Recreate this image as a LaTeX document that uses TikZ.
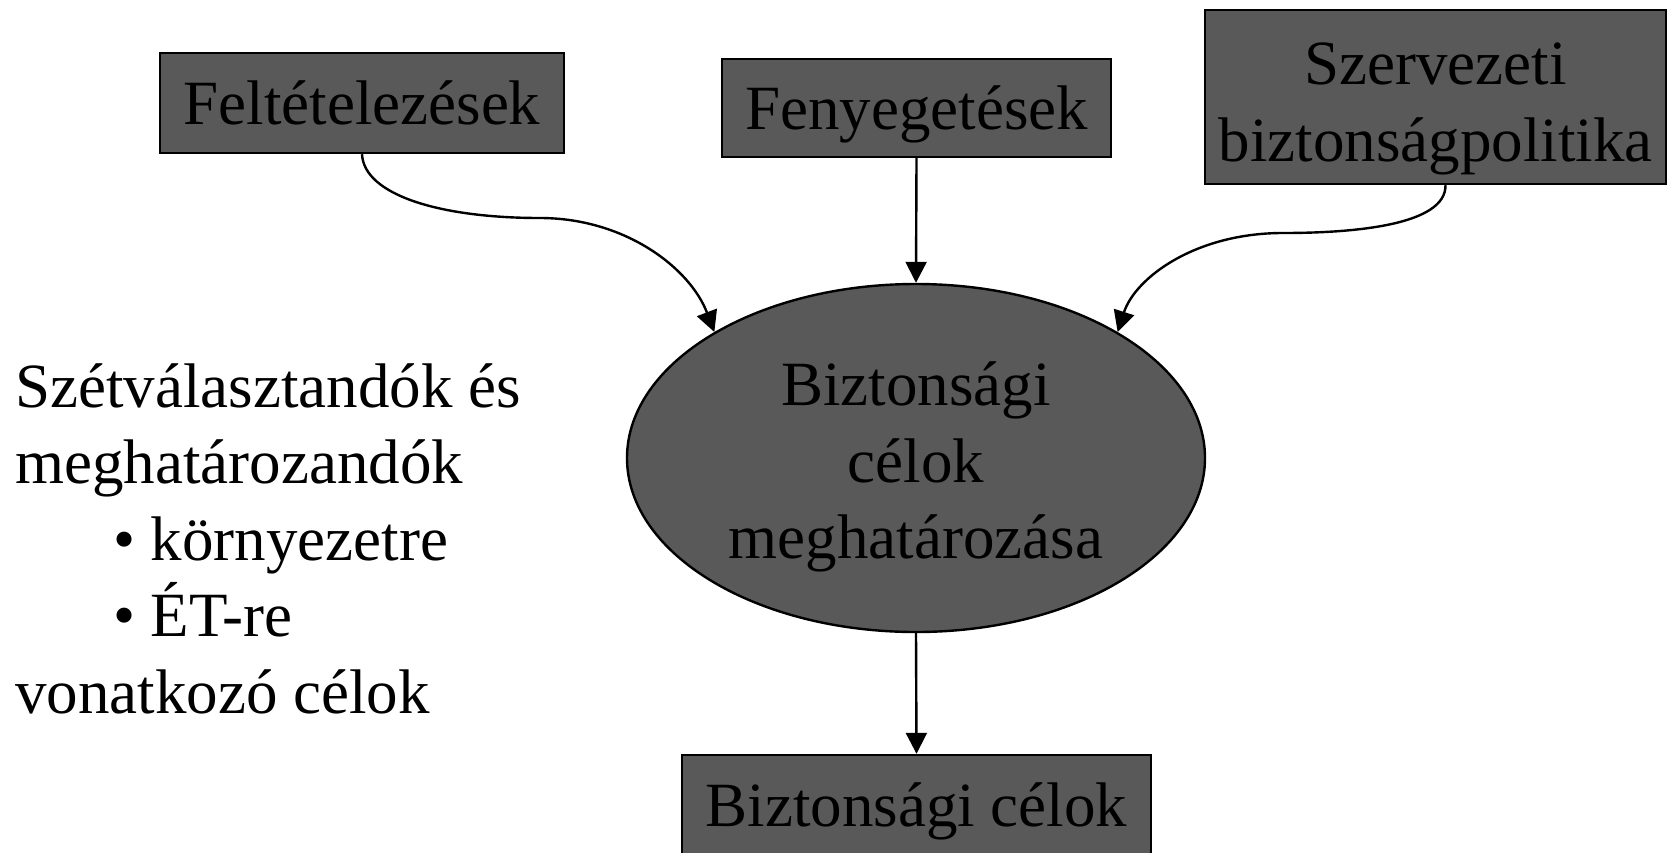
\documentclass[tikz,border=0pt]{standalone}
\usepackage{fontspec}
\setmainfont{Liberation Serif}
\usetikzlibrary{arrows.meta,shapes.geometric}
\definecolor{boxgray}{HTML}{595959}
\newcommand{\ppstrut}{\rule[-14pt]{0pt}{70pt}}

\begin{document}
\begin{tikzpicture}[x=1pt, y=-1pt, >={Triangle[length=21pt,width=21pt]}, line width=2.4pt,
	txt/.style={font=\fontsize{63}{76.5}\selectfont, inner sep=0pt},
	grbox/.style={txt, draw, fill=boxgray, align=center, text height=56pt, text depth=14pt},
	grell/.style={txt, draw, fill=boxgray, ellipse, align=center}]
			
			\useasboundingbox (0,0) rectangle (1677,852);
			
			\node[grbox, minimum width=404pt, minimum height=100pt] (fel) at (362,103) {Feltételezések};
			\node[grbox, minimum width=389pt, minimum height=98pt] (fen) at (916.5,108) {Fenyegetések};
			\node[txt, draw, fill=boxgray, align=center, minimum width=461pt, minimum height=174pt]
			(szp) at (1435.5,97) {\rule{0pt}{66pt}Szervezeti\\biztonságpolitika\ppstrut};
			
			\node[grell, minimum width=578pt, minimum height=348pt] (bcm) at (916,458)
			{\rule{0pt}{62pt}Biztonsági\\célok\\meghatározása\ppstrut};
			
			\node[grbox, minimum width=469pt, minimum height=100pt] (bc) at (916.5,805) {Biztonsági célok};
			
			\node[txt, anchor=north west, align=left] (lt) at (14,350)
			{\ppstrut Szétválasztandók és\\meghatározandók\\\hspace*{98pt}• környezetre\\\hspace*{98pt}• ÉT-re\\vonatkozó célok};
			
			\draw[->] (fel.south) .. controls (364,195) and (440,218) .. (540,218)
			.. controls (625,218) and (690,268) .. (bcm.148);
			\draw[->] (fen.south) -- (bcm.north);
			\draw[->] ([xshift=10pt]szp.south) .. controls (1446,225) and (1355,233) .. (1283,233)
			.. controls (1195,233) and (1135,278) .. (bcm.32);
			\draw[->] (bcm.south) -- (bc.north);
			
	\end{tikzpicture}
\end{document}
